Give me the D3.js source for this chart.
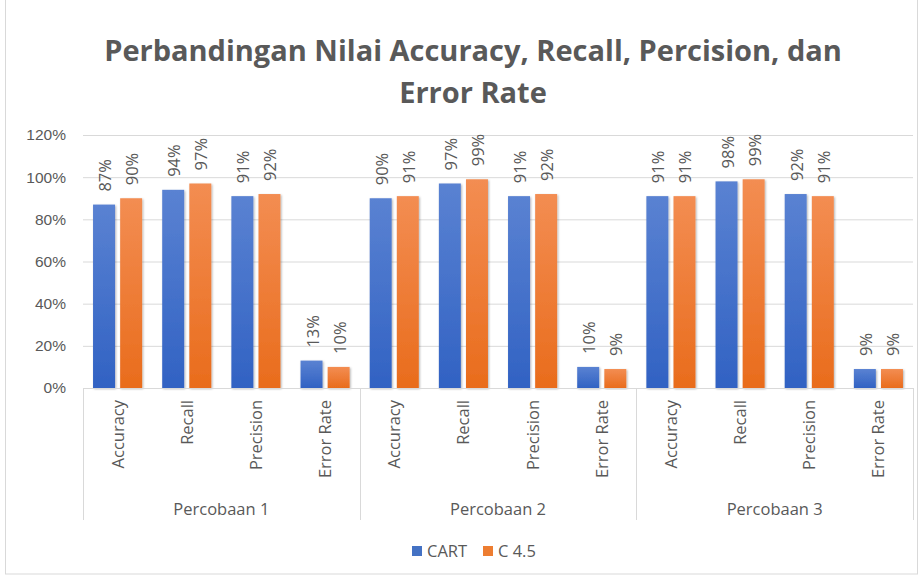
<!DOCTYPE html>
<html>
<head>
<meta charset="utf-8">
<script src="https://cdn.jsdelivr.net/npm/d3@7"></script>
<style>
  body { margin: 0; background: #fff; }
  svg { display: block; font-family: "Open Sans", "DejaVu Sans", sans-serif; }
</style>
</head>
<body>
<div id="chart"></div>
<script>
// Chart data
const groups = ["Percobaan 1", "Percobaan 2", "Percobaan 3"];
const categories = ["Accuracy", "Recall", "Precision", "Error Rate"];
const seriesNames = ["CART", "C 4.5"];
const cartValues = [
  [0.87, 0.94, 0.91, 0.13],
  [0.90, 0.97, 0.91, 0.10],
  [0.91, 0.98, 0.92, 0.09]
];
const c45Values = [
  [0.90, 0.97, 0.92, 0.10],
  [0.91, 0.99, 0.92, 0.09],
  [0.91, 0.99, 0.91, 0.09]
];
const yTicks = [0, 0.2, 0.4, 0.6, 0.8, 1.0, 1.2];

const width = 924;
const height = 580;
const margin = { top: 135, right: 11, bottom: 192, left: 83 };
const chartW = width - margin.left - margin.right;
const chartH = height - margin.top - margin.bottom;

const textColor = "#595959";
const gridColor = "#d9d9d9";

// Flatten into rows
const rows = [];
groups.forEach((g, gi) => {
  categories.forEach((c, ci) => {
    rows.push({ group: g, category: c, series: seriesNames[0], value: cartValues[gi][ci] });
    rows.push({ group: g, category: c, series: seriesNames[1], value: c45Values[gi][ci] });
  });
});

const svg = d3.select("#chart").append("svg")
  .attr("width", width)
  .attr("height", height);

// Gradients for the Excel-like bars
const defs = svg.append("defs");
const gradients = [
  { id: "gradCart", top: "#5a82d2", bottom: "#3162c3" },
  { id: "gradC45", top: "#f38d52", bottom: "#e96c1c" }
];
gradients.forEach(g => {
  const lg = defs.append("linearGradient")
    .attr("id", g.id).attr("x1", 0).attr("y1", 0).attr("x2", 0).attr("y2", 1);
  lg.append("stop").attr("offset", "0%").attr("stop-color", g.top);
  lg.append("stop").attr("offset", "100%").attr("stop-color", g.bottom);
});
const shadow = defs.append("filter").attr("id", "shadow")
  .attr("x", "-20%").attr("y", "-5%").attr("width", "150%").attr("height", "115%");
shadow.append("feDropShadow")
  .attr("dx", 1).attr("dy", 1).attr("stdDeviation", 1)
  .attr("flood-color", "#000").attr("flood-opacity", 0.3);

// Outer chart border
svg.append("rect")
  .attr("x", 5.5).attr("y", -2).attr("width", width - 12).attr("height", height - 4)
  .attr("fill", "none").attr("stroke", "#d9d9d9");

// Title
const title = svg.append("text")
  .attr("text-anchor", "middle")
  .attr("fill", textColor)
  .style("font-size", "29px")
  .style("font-weight", "bold");
title.append("tspan").attr("x", 473).attr("y", 61)
  .text("Perbandingan Nilai Accuracy, Recall, Percision, dan");
title.append("tspan").attr("x", 473).attr("y", 103)
  .text("Error Rate");

const chart = svg.append("g")
  .attr("transform", "translate(" + margin.left + "," + margin.top + ")");

// Scales
const yScale = d3.scaleLinear().domain([0, 1.2]).range([chartH, 0]);
const x0 = d3.scaleBand().domain(groups).range([0, chartW]).padding(0);
const x1 = d3.scaleBand().domain(categories).range([0, x0.bandwidth()]).padding(0);
const x2 = d3.scaleBand().domain(seriesNames).range([0, x1.bandwidth()])
  .paddingInner(0.19).paddingOuter(0.37);
const color = d3.scaleOrdinal().domain(seriesNames).range(["url(#gradCart)", "url(#gradC45)"]);
const legendColor = d3.scaleOrdinal().domain(seriesNames).range(["#4472c4", "#ed7d31"]);

// Gridlines and Y axis
const yAxis = d3.axisLeft(yScale)
  .tickValues(yTicks)
  .tickFormat(d3.format(".0%"))
  .tickSize(-chartW)
  .tickPadding(17);
const yAxisG = chart.append("g").classed("yAxis axis", true).call(yAxis);
yAxisG.select(".domain").remove();
yAxisG.selectAll(".tick line").attr("stroke", gridColor).attr("stroke-width", 1);
yAxisG.selectAll(".tick text")
  .attr("fill", textColor)
  .style("font-size", "15.5px");

// Bars
chart.selectAll(".bar")
  .data(rows)
  .enter().append("rect")
  .attr("class", "bar")
  .attr("x", d => x0(d.group) + x1(d.category) + x2(d.series))
  .attr("y", d => yScale(d.value))
  .attr("width", x2.bandwidth())
  .attr("height", d => chartH - yScale(d.value))
  .attr("fill", d => color(d.series))
  .attr("filter", "url(#shadow)");

// Data labels (rotated)
chart.selectAll(".dataLabel")
  .data(rows)
  .enter().append("text")
  .attr("class", "dataLabel")
  .attr("transform", d => {
    const cx = x0(d.group) + x1(d.category) + x2(d.series) + x2.bandwidth() / 2;
    const cy = yScale(d.value) - 13;
    return "translate(" + (cx + 7) + "," + cy + ") rotate(-90)";
  })
  .attr("text-anchor", "start")
  .attr("fill", textColor)
  .style("font-size", "16.5px")
  .text(d => d3.format(".0%")(d.value));

// Category axis line
chart.append("line")
  .attr("x1", 0).attr("x2", chartW)
  .attr("y1", chartH + 0.5).attr("y2", chartH + 0.5)
  .attr("stroke", gridColor);

// Group separators
const sepBottom = 132;
d3.range(groups.length + 1).forEach(i => {
  const x = i * x0.bandwidth();
  chart.append("line")
    .attr("x1", Math.round(x) + 0.5).attr("x2", Math.round(x) + 0.5)
    .attr("y1", chartH).attr("y2", chartH + sepBottom)
    .attr("stroke", gridColor);
});

// Category labels (rotated)
const catRows = [];
groups.forEach(g => categories.forEach(c => catRows.push({ group: g, category: c })));
chart.selectAll(".catLabel")
  .data(catRows)
  .enter().append("text")
  .attr("class", "catLabel")
  .attr("transform", d => {
    const cx = x0(d.group) + x1(d.category) + x1.bandwidth() / 2;
    return "translate(" + (cx + 6) + "," + (chartH + 12) + ") rotate(-90)";
  })
  .attr("text-anchor", "end")
  .attr("fill", textColor)
  .style("font-size", "16.5px")
  .text(d => d.category);

// Group labels
chart.selectAll(".groupLabel")
  .data(groups)
  .enter().append("text")
  .attr("class", "groupLabel")
  .attr("x", d => x0(d) + x0.bandwidth() / 2)
  .attr("y", chartH + 127)
  .attr("text-anchor", "middle")
  .attr("fill", textColor)
  .style("font-size", "16.5px")
  .text(d => d);

// Legend
const legend = svg.append("g").attr("transform", "translate(412, 551)");
const legendX = [0, 71];
seriesNames.forEach((s, i) => {
  const item = legend.append("g").attr("transform", "translate(" + legendX[i] + ",0)");
  item.append("rect")
    .attr("x", 0).attr("y", -5).attr("width", 10).attr("height", 10)
    .attr("fill", legendColor(s));
  item.append("text")
    .attr("x", 15).attr("y", 6)
    .attr("fill", textColor)
    .style("font-size", "16.5px")
    .text(s);
});
</script>
</body>
</html>
